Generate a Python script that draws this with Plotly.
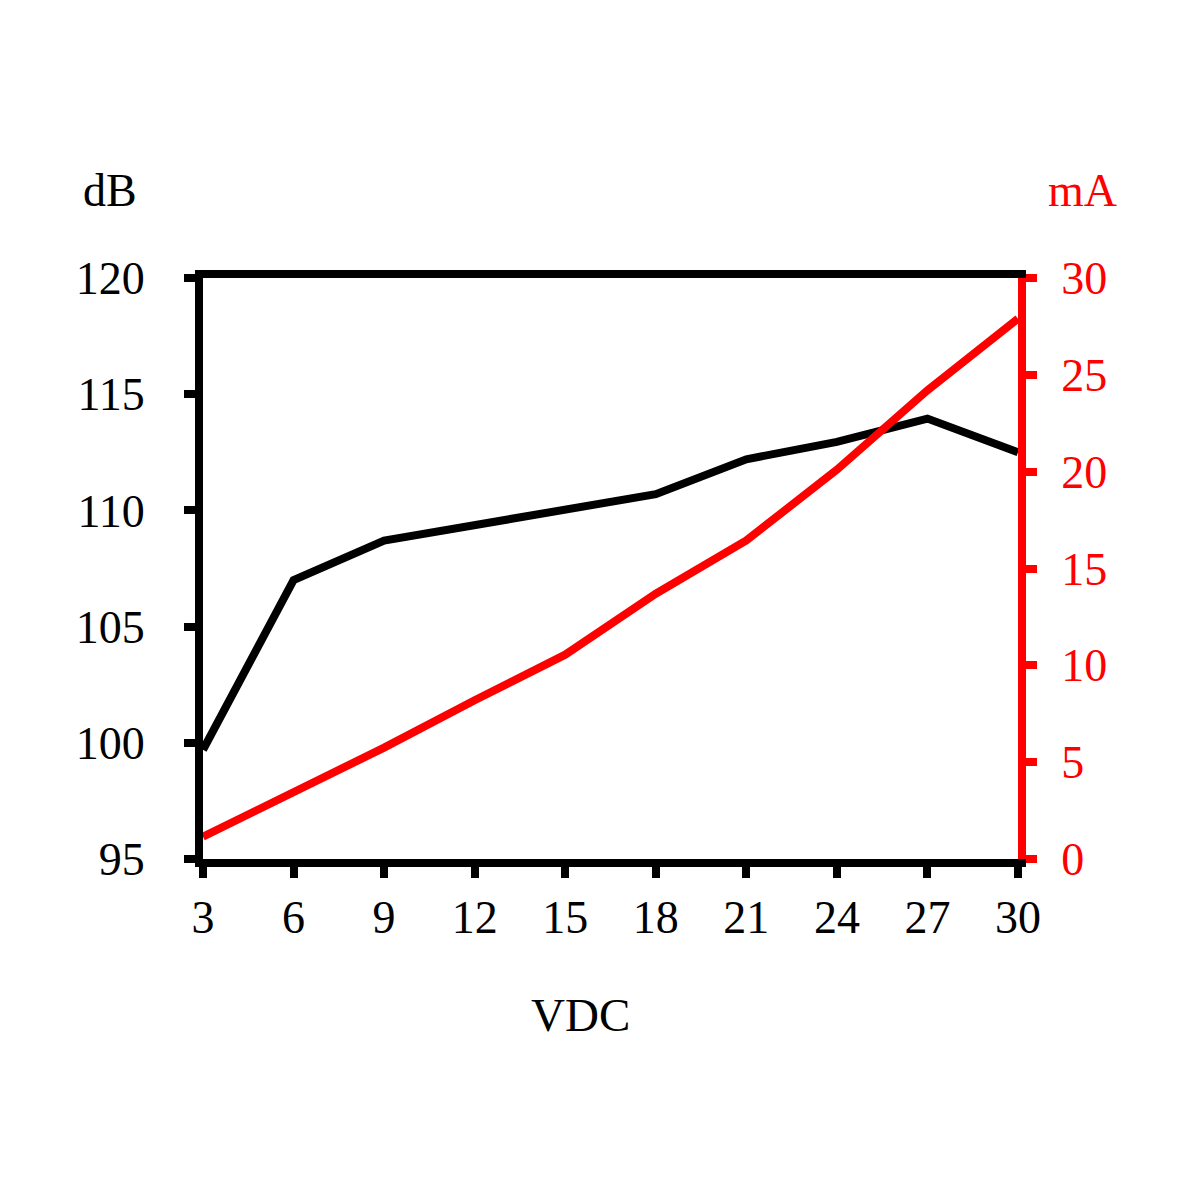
import plotly.graph_objects as go

vdc = [3, 6, 9, 12, 15, 18, 21, 24, 27, 30]
db_values = [99.7, 107.0, 108.7, 109.35, 110.05, 110.7, 112.2, 112.95, 113.95, 112.5]
ma_values = [1.15, 3.45, 5.75, 8.2, 10.55, 13.7, 16.45, 20.1, 24.2, 27.9]
x_ticks = [3, 6, 9, 12, 15, 18, 21, 24, 27, 30]
db_ticks = [95, 100, 105, 110, 115, 120]
ma_ticks = [0, 5, 10, 15, 20, 25, 30]

FONT = "Liberation Serif, Times New Roman, serif"
W, H = 1200, 1200
OFF = 8  # page body margin
L, R, T, B = 195, 190, 270, 349

fig = go.Figure()
fig.add_trace(go.Scatter(x=vdc, y=ma_values, mode="lines", yaxis="y2",
                         line=dict(color="#ff0000", width=8), showlegend=False))
fig.add_trace(go.Scatter(x=vdc, y=db_values, mode="lines", yaxis="y",
                         line=dict(color="#000000", width=8), showlegend=False))

def px_to_paper_x(px):
    return (px - OFF - L) / (W - L - R)

def px_to_paper_y(py):
    return (H - B - (py - OFF)) / (H - T - B)

fig.update_layout(
    width=W, height=H,
    margin=dict(l=L, r=R, t=T, b=B),
    paper_bgcolor="white", plot_bgcolor="white",
    font=dict(family=FONT, size=46, color="black"),
    xaxis=dict(range=[3, 30], tickvals=x_ticks, ticktext=[str(v) for v in x_ticks],
               showgrid=False, zeroline=False, showline=True, linecolor="black",
               linewidth=8, mirror=True, ticks="outside", ticklen=11, tickwidth=8,
               tickcolor="black", ticklabelstandoff=0,
               tickfont=dict(family=FONT, size=46, color="black")),
    yaxis=dict(range=[95, 120], tickvals=db_ticks, showgrid=False, zeroline=False,
               showline=True, linecolor="black", linewidth=8, ticks="outside",
               ticklen=11, tickwidth=8, tickcolor="black", ticklabelstandoff=30,
               tickfont=dict(family=FONT, size=46, color="black")),
    yaxis2=dict(range=[0, 30], tickvals=ma_ticks, overlaying="y", side="right",
                showgrid=False, zeroline=False, showline=True, linecolor="#ff0000",
                linewidth=8, ticks="outside", ticklen=11, tickwidth=8,
                tickcolor="#ff0000", ticklabelstandoff=15,
                tickfont=dict(family=FONT, size=46, color="#ff0000")),
    annotations=[
        dict(text="dB", x=px_to_paper_x(110), y=px_to_paper_y(190), xref="paper", yref="paper",
             showarrow=False, xanchor="center", yanchor="middle",
             font=dict(family=FONT, size=46, color="black")),
        dict(text="mA", x=px_to_paper_x(1082), y=px_to_paper_y(190), xref="paper", yref="paper",
             showarrow=False, xanchor="center", yanchor="middle",
             font=dict(family=FONT, size=46, color="#ff0000")),
        dict(text="VDC", x=px_to_paper_x(580), y=px_to_paper_y(1015), xref="paper", yref="paper",
             showarrow=False, xanchor="center", yanchor="middle",
             font=dict(family=FONT, size=47, color="black")),
    ],
)

fig.write_html("out.html")
